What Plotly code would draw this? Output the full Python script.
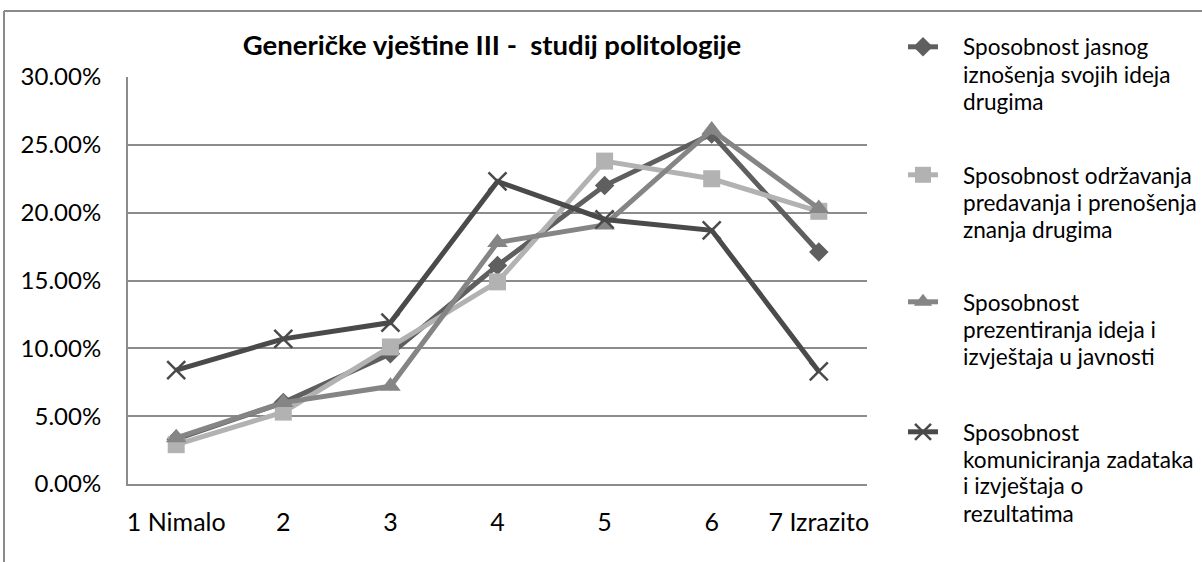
import plotly.graph_objects as go

categories = ["1 Nimalo", "2", "3", "4", "5", "6", "7 Izrazito"]

jasno_iznosenje = [3.3, 6.0, 9.6, 16.1, 22.0, 25.8, 17.1]
odrzavanje_predavanja = [2.9, 5.3, 10.1, 14.9, 23.8, 22.5, 20.1]
prezentiranje = [3.4, 6.0, 7.2, 17.8, 19.1, 26.1, 20.3]
komuniciranje = [8.4, 10.7, 11.9, 22.3, 19.5, 18.7, 8.3]

series_names = [
    "Sposobnost jasnog iznošenja svojih ideja drugima",
    "Sposobnost održavanja predavanja i prenošenja znanja drugima",
    "Sposobnost prezentiranja ideja i izvještaja u javnosti",
    "Sposobnost komuniciranja zadataka i izvještaja o rezultatima",
]
legend_lines = [
    ["Sposobnost jasnog", "iznošenja svojih ideja", "drugima"],
    ["Sposobnost održavanja", "predavanja i prenošenja", "znanja drugima"],
    ["Sposobnost", "prezentiranja ideja i", "izvještaja u javnosti"],
    ["Sposobnost", "komuniciranja zadataka", "i izvještaja o", "rezultatima"],
]
y_ticks = [0, 5, 10, 15, 20, 25, 30]

FONT = "Lato"
W, H = 1202, 562
L, R, T, B = 128, 335, 77, 78
PW, PH = W - L - R, H - T - B


def px_x(x):
    return (x - L) / PW


def px_y(y):
    return (H - B - y) / PH


colors = ["#5f5f5f", "#b2b2b2", "#858585", "#4a4a4a"]
symbols = ["diamond", "square", "triangle-up", "x-thin"]
sizes = [15, 17, 18, 18]
values = [jasno_iznosenje, odrzavanje_predavanja, prezentiranje, komuniciranje]
legend_ids = ["legend", "legend2", "legend3", "legend4"]
legend_top_px = [47, 175, 302, 432]

fig = go.Figure()
for i in range(4):
    mk = dict(symbol=symbols[i], size=sizes[i], color=colors[i])
    if symbols[i] == "x-thin":
        mk["line"] = dict(width=2.5, color=colors[i])
    fig.add_trace(go.Scatter(
        x=categories, y=values[i], mode="lines+markers",
        name=" ", legend=legend_ids[i],
        line=dict(color=colors[i], width=5),
        marker=mk,
        hovertext=series_names[i],
    ))

layout_legends = {}
for i, lid in enumerate(legend_ids):
    layout_legends[lid] = dict(
        x=px_x(903), y=px_y(legend_top_px[i]), xanchor="left", yanchor="middle",
        font=dict(family=FONT, size=22, color="#000"), bgcolor="rgba(0,0,0,0)",
        borderwidth=0, itemwidth=30,
    )

annotations = []
for i, lines in enumerate(legend_lines):
    for j, txt in enumerate(lines):
        annotations.append(dict(
            x=px_x(961), y=px_y(legend_top_px[i] + 27 * j), xref="paper", yref="paper",
            xanchor="left", yanchor="middle", showarrow=False, text=txt,
            font=dict(family=FONT, size=22.6, color="#000"),
        ))

fig.update_layout(
    width=W, height=H, autosize=False,
    margin=dict(l=L, r=R, t=T, b=B, autoexpand=False),
    paper_bgcolor="white", plot_bgcolor="white",
    showlegend=True,
    title=dict(text="Generičke vještine III -\u00a0 studij politologije",
               x=492 / W, xanchor="center", y=1 - 45 / H, yanchor="middle",
               xref="container", yref="container",
               font=dict(family=FONT, size=27.5, color="#000", weight="bold")),
    xaxis=dict(type="category", showgrid=False, showline=True, linecolor="#8c8c8c",
               linewidth=2, ticks="", tickfont=dict(family=FONT, size=25, color="#000"),
               ticklabelstandoff=15, zeroline=False, automargin=False),
    yaxis=dict(range=[0, 30], tickvals=y_ticks, ticktext=[f"{v:.2f}%" for v in y_ticks],
               showgrid=True, gridcolor="#8c8c8c", gridwidth=2, showline=True,
               linecolor="#8c8c8c", linewidth=2, ticks="", zeroline=False, automargin=False,
               tickfont=dict(family=FONT, size=24, color="#000"), ticklabelstandoff=20),
    annotations=annotations,
    shapes=[
        dict(type="line", xref="paper", yref="paper", x0=px_x(4), x1=px_x(1202),
             y0=px_y(11), y1=px_y(11), line=dict(color="#8a8a8a", width=2)),
        dict(type="line", xref="paper", yref="paper", x0=px_x(4), x1=px_x(4),
             y0=px_y(11), y1=px_y(562), line=dict(color="#8a8a8a", width=2)),
    ],
    **layout_legends,
)

fig.write_html("out.html", config={"displayModeBar": False},
               post_script="document.body.style.margin='0';")
